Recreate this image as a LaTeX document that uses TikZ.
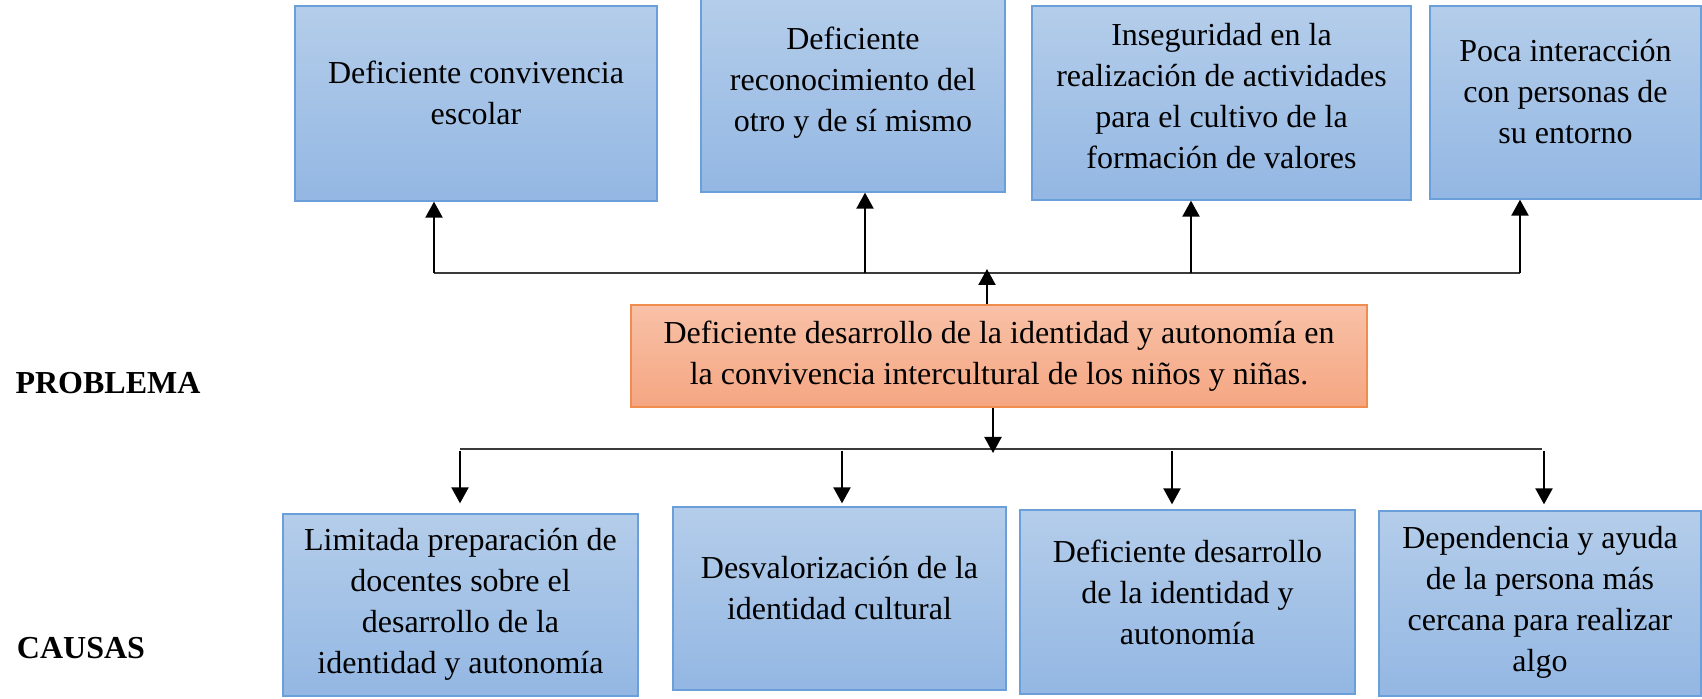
\documentclass[tikz,border=0pt]{standalone}
\usepackage{fontspec}
\setmainfont{Liberation Serif}
\usetikzlibrary{arrows.meta}
\definecolor{blueTop}{HTML}{B4CDEA}
\definecolor{blueBot}{HTML}{93B7E3}
\definecolor{blueBorder}{HTML}{6A9FD9}
\definecolor{orTop}{HTML}{F8C1A7}
\definecolor{orBot}{HTML}{F5A682}
\definecolor{orBorder}{HTML}{F08C4E}
\definecolor{lineGray}{HTML}{3A3A3A}
\tikzset{
  bluebox/.style={rectangle, draw=blueBorder, line width=0.65pt, top color=blueTop, bottom color=blueBot, inner sep=0pt},
  orbox/.style={rectangle, draw=orBorder, line width=0.65pt, top color=orTop, bottom color=orBot, inner sep=0pt, align=center, font=\fontsize{16}{20.5}\selectfont},
  boxtext/.style={align=center, inner sep=0pt, font=\fontsize{16}{20.5}\selectfont},
  sidelabel/.style={inner sep=0pt, font=\fontsize{16}{20}\selectfont\bfseries},
  hline/.style={draw=lineGray, line width=0.9pt},
  arr/.style={draw=black, line width=1.1pt, -{Triangle[length=8pt,width=8.5pt]}}
}
\begin{document}
\begin{tikzpicture}[x=0.5pt,y=-0.5pt]
\useasboundingbox (0,0) rectangle (1702,699);

% top boxes (effects)
\node[bluebox, minimum width=181pt, minimum height=97.5pt] (T1) at (476,103.5) {};
\node[bluebox, minimum width=152pt, minimum height=97pt] (T2) at (853,95) {};
\node[bluebox, minimum width=189.5pt, minimum height=97pt] (T3) at (1221.5,103) {};
\node[bluebox, minimum width=135.5pt, minimum height=96.5pt] (T4) at (1565.5,102.5) {};

\node[boxtext] (T1t) at (476,92.5) {Deficiente convivencia\\escolar};
\node[boxtext] (T2t) at (853,83) {Deficiente\\reconocimiento del\\otro y de sí mismo};
\node[boxtext] (T3t) at (1221.5,96) {Inseguridad en la\\realización de actividades\\para el cultivo de la\\formación de valores};
\node[boxtext] (T4t) at (1565.5,92) {Poca interacción\\con personas de\\su entorno};

% central problem
\node[orbox, minimum width=368pt, minimum height=51pt] (C) at (999,356) {Deficiente desarrollo de la identidad y autonomía en\\la convivencia intercultural de los niños y niñas.};

% bottom boxes (causes)
\node[bluebox, minimum width=177.5pt, minimum height=91pt] (B1) at (460.5,605) {};
\node[bluebox, minimum width=166.5pt, minimum height=91.5pt] (B2) at (839.5,598.5) {};
\node[bluebox, minimum width=167.5pt, minimum height=92pt] (B3) at (1187.5,602) {};
\node[bluebox, minimum width=161pt, minimum height=92.5pt] (B4) at (1540,603.5) {};

\node[boxtext] (B1t) at (460.5,604.5) {Limitada preparación de\\docentes sobre el\\desarrollo de la\\identidad y autonomía};
\node[boxtext] (B2t) at (839.5,588) {Desvalorización de la\\identidad cultural};
\node[boxtext] (B3t) at (1187.5,592) {Deficiente desarrollo\\de la identidad y\\autonomía};
\node[boxtext] (B4t) at (1540,602) {Dependencia y ayuda\\de la persona más\\cercana para realizar\\algo};

% side labels
\node[sidelabel] (prob) at (108,383) {PROBLEMA};
\node[sidelabel] (caus) at (81,648) {CAUSAS};

% connector coordinates
\coordinate (t1) at (434,273);
\coordinate (t2) at (865,273);
\coordinate (t3) at (1191,273);
\coordinate (t4) at (1520,273);
\coordinate (cu) at (987,273);
\coordinate (cd) at (993,449);
\coordinate (b1) at (460,449);
\coordinate (b2) at (842,449);
\coordinate (b3) at (1172,449);
\coordinate (b4) at (1544,449);
\coordinate (bend) at (1542,449);

% top distribution line and arrows
\draw[hline] (t1) -- (t4);
\draw[arr] (t1) -- (t1 |- T1.south);
\draw[arr] (t2) -- (t2 |- T2.south);
\draw[arr] (t3) -- (t3 |- T3.south);
\draw[arr] (t4) -- (t4 |- T4.south);
\draw[arr, shorten >=-2pt] (C.north -| cu) -- (cu);

% bottom distribution line and arrows
\draw[hline] (b1) -- (bend);
\draw[arr, shorten >=-2pt] (C.south -| cd) -- (cd);
\draw[arr, shorten <=1pt, shorten >=5pt] (b1) -- (b1 |- B1.north);
\draw[arr, shorten <=1pt, shorten >=1.5pt] (b2) -- (b2 |- B2.north);
\draw[arr, shorten <=1pt, shorten >=2.5pt] (b3) -- (b3 |- B3.north);
\draw[arr, shorten <=1pt, shorten >=3pt] (b4) -- (b4 |- B4.north);
\end{tikzpicture}
\end{document}
